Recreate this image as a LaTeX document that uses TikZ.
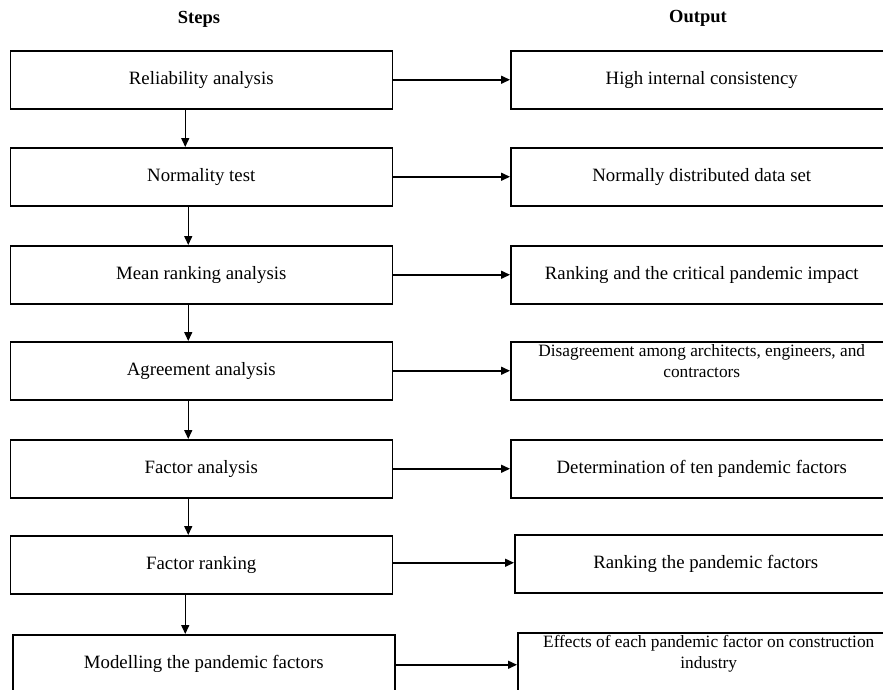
\documentclass[tikz,border=0pt]{standalone}
\usepackage{fontspec}
\setmainfont{Liberation Serif}
\usetikzlibrary{arrows.meta}
\begin{document}
\begin{tikzpicture}[x=1pt,y=-1pt,
  box/.style={draw, line width=1.5pt, minimum width=382pt, minimum height=58pt, inner sep=0pt, anchor=north west, font=\fontsize{18.8}{21}\selectfont},
  lbl/.style={anchor=north, align=center, inner sep=0pt, font=\fontsize{17.3}{21}\selectfont},
  hdr/.style={font=\fontsize{18.5}{20}\selectfont\bfseries, inner sep=0pt},
  arr/.style={line width=1.5pt, -{Triangle[length=9pt,width=8pt]}}]
\useasboundingbox (0,0) rectangle (883,689);
\node[hdr] (h1) at (199,19) {Steps};
\node[hdr] (h2) at (698,18) {Output};
% steps
\node[box] (s1) at (9.5,50) {Reliability analysis};
\node[box] (s2) at (9.5,147) {Normality test};
\node[box] (s3) at (9.5,245) {Mean ranking analysis};
\node[box] (s4) at (9.5,341) {Agreement analysis};
\node[box] (s5) at (9.5,439) {Factor analysis};
\node[box] (s6) at (9.5,535) {Factor ranking};
\node[box] (s7) at (12,634) {Modelling the pandemic factors};
% outputs
\node[box] (o1) at (510,50) {High internal consistency};
\node[box] (o2) at (510,147) {Normally distributed data set};
\node[box] (o3) at (510,245) {Ranking and the critical pandemic impact};
\node[box] (o4) at (510,341) {};
\node[lbl] (t4) at ([yshift=-3pt]o4.north) {Disagreement among architects, engineers, and\\contractors};
\node[box] (o5) at (510,439) {Determination of ten pandemic factors};
\node[box] (o6) at (514,534) {Ranking the pandemic factors};
\node[box] (o7) at (517,632) {};
\node[lbl] (t7) at ([yshift=-3pt]o7.north) {Effects of each pandemic factor on construction\\industry};
% vertical arrows
\draw[arr] ([xshift=-16pt]s1.south) -- ([xshift=-16pt]s1.south |- s2.north);
\draw[arr] ([xshift=-13pt]s2.south) -- ([xshift=-13pt]s2.south |- s3.north);
\draw[arr] ([xshift=-13pt]s3.south) -- ([xshift=-13pt]s3.south |- s4.north);
\draw[arr] ([xshift=-13pt]s4.south) -- ([xshift=-13pt]s4.south |- s5.north);
\draw[arr] ([xshift=-13pt]s5.south) -- ([xshift=-13pt]s5.south |- s6.north);
\draw[arr] ([xshift=-16pt]s6.south) -- ([xshift=-16pt]s6.south |- s7.north);
% horizontal arrows
\draw[arr] (s1.east) -- (s1.east -| o1.west);
\draw[arr] (s2.east) -- (s2.east -| o2.west);
\draw[arr] (s3.east) -- (s3.east -| o3.west);
\draw[arr] (s4.east) -- (s4.east -| o4.west);
\draw[arr] (s5.east) -- (s5.east -| o5.west);
\draw[arr] ([yshift=2pt]s6.east) -- ([yshift=2pt]s6.east -| o6.west);
\draw[arr] ([yshift=-1pt]s7.east) -- ([yshift=-1pt]s7.east -| o7.west);
\end{tikzpicture}
\end{document}
